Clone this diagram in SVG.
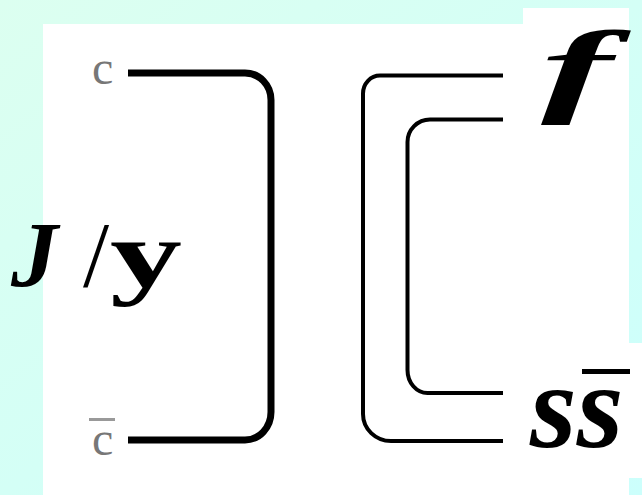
<svg xmlns="http://www.w3.org/2000/svg" width="642" height="495" viewBox="0 0 642 495">
  <defs>
    <linearGradient id="bg" x1="0" y1="0" x2="1" y2="1">
      <stop offset="0" stop-color="#dcfff0"/>
      <stop offset="1" stop-color="#ccfffc"/>
    </linearGradient>
  </defs>
  <style>
    .thick { fill: none; stroke: #000; stroke-width: 7; }
    .thin { fill: none; stroke: #000; stroke-width: 4; }
    .serif { font-family: "Liberation Serif", "Times New Roman", serif; fill: #000; }
    .lbl { font-family: "Liberation Serif", "Times New Roman", serif; fill: #777; font-size: 48px; }
  </style>
  <rect x="0" y="0" width="642" height="495" fill="url(#bg)"/>
  <g id="paper" fill="#fff">
    <rect x="43" y="24" width="480" height="471"/>
    <rect x="523" y="8" width="106" height="487"/>
    <rect x="629" y="343" width="13" height="135"/>
  </g>
  <g id="connectors">
    <path class="thick" d="M128,73 H245 A26,27 0 0 1 271,100 V412 A26,28 0 0 1 245,440 H128"/>
    <path class="thin" d="M503,75.5 H380 A17,18 0 0 0 363,93.5 V414 A28,27 0 0 0 391,441 H503"/>
    <path class="thin" d="M503,119.5 H430 A22.5,22.5 0 0 0 407.5,142 V370 A20,23 0 0 0 427.5,393 H503"/>
  </g>
  <g id="c-top">
    <text class="lbl" x="92" y="84">c</text>
  </g>
  <g id="c-bar">
    <text class="lbl" x="92" y="455">c</text>
    <rect x="89" y="418" width="26" height="3" fill="#999"/>
  </g>
  <g id="jpsi">
    <text class="serif" x="11" y="286" font-size="94" font-style="italic" font-weight="bold">J</text>
    <text class="serif" x="83" y="286" font-size="94">/</text>
    <text class="serif" x="110" y="287" font-size="96" font-weight="bold" textLength="72" lengthAdjust="spacingAndGlyphs">y</text>
  </g>
  <g id="phi">
    <text class="serif" x="541" y="103" font-size="104" font-style="italic" font-weight="bold" textLength="72" lengthAdjust="spacingAndGlyphs">f</text>
  </g>
  <g id="ssbar">
    <text class="serif" x="530" y="447" font-size="120" font-style="italic" font-weight="bold">ss</text>
    <rect x="582" y="369" width="48" height="5" fill="#000"/>
  </g>
</svg>
